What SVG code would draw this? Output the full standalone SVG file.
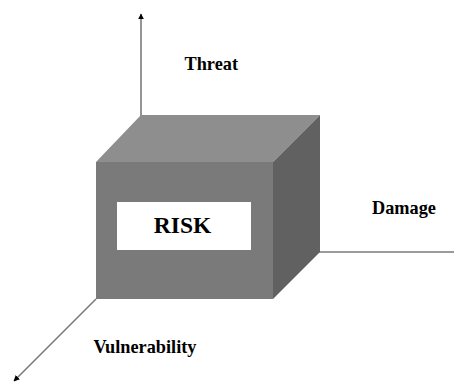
<svg xmlns="http://www.w3.org/2000/svg" width="454" height="384" viewBox="0 0 454 384">
<style>
.axis{stroke:#7a7a7a;stroke-width:1.6;fill:none}
.lbl{font-family:"Liberation Serif",serif;font-weight:bold;font-size:18.3px;fill:#000}
</style>
<defs>
<marker id="ah" viewBox="0 0 10 10" refX="9" refY="5" markerWidth="6" markerHeight="6" orient="auto" markerUnits="userSpaceOnUse">
<path d="M0,0 L10,5 L0,10 z" fill="#000"/>
</marker>
</defs>
<rect width="454" height="384" fill="#fff"/>
<g id="connectors">
<line class="axis" x1="141" y1="116" x2="141" y2="14" marker-end="url(#ah)"/>
<line class="axis" x1="318" y1="252" x2="454" y2="252"/>
<line class="axis" x1="96" y1="299" x2="14" y2="381" marker-end="url(#ah)"/>
</g>
<g id="cube">
<polygon points="96,162 141,115 320,115 273,162" fill="#8e8e8e"/>
<polygon points="273,162 320,115 320,252 273,299" fill="#616161"/>
<rect x="96" y="162" width="177" height="137" fill="#7a7a7a"/>
<rect x="117" y="202" width="134" height="48" fill="#fff"/>
<text x="182.5" y="233" text-anchor="middle" font-family="Liberation Serif,serif" font-weight="bold" font-size="23.5">RISK</text>
</g>
<g id="threat"><text class="lbl" x="184.5" y="70">Threat</text></g>
<g id="damage"><text class="lbl" x="372" y="214">Damage</text></g>
<g id="vulnerability"><text class="lbl" x="93.5" y="353">Vulnerability</text></g>
</svg>
